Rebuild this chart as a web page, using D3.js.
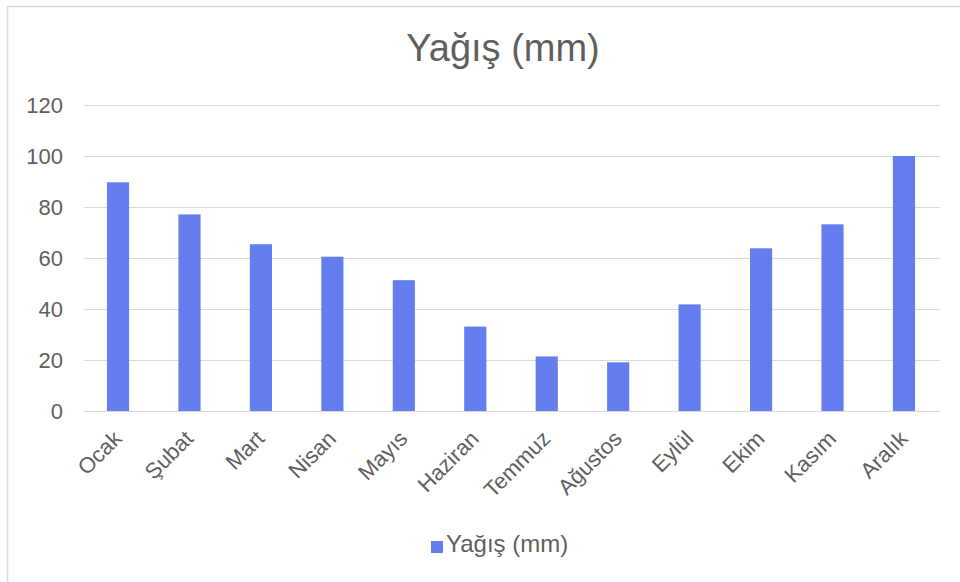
<!DOCTYPE html>
<html>
<head>
<meta charset="utf-8">
<script src="https://cdn.jsdelivr.net/npm/d3@7"></script>
<style>
  body { margin: 0; background: #fff; }
  text { font-family: "Liberation Sans", Arial, sans-serif; fill: #5f5f5f; }
</style>
</head>
<body>
<div id="chart"></div>
<script>
const months = ['Ocak', 'Şubat', 'Mart', 'Nisan', 'Mayıs', 'Haziran', 'Temmuz', 'Ağustos', 'Eylül', 'Ekim', 'Kasım', 'Aralık'];
const rainfall = [89.7, 77.1, 65.4, 60.5, 51.3, 33.1, 21.4, 19.1, 41.8, 63.8, 73.2, 100];
const yTicks = [0, 20, 40, 60, 80, 100, 120];
const title = 'Yağış (mm)';

const dim = { width: 960, height: 582, left: 84, right: 940, top: 105, bottom: 411 };

const svg = d3.select('#chart')
    .append('svg')
        .attr('width', dim.width)
        .attr('height', dim.height);

// outer frame, right and bottom sides run off the picture
svg.append('rect')
    .attr('x', 7.5)
    .attr('y', 6.5)
    .attr('width', 1000)
    .attr('height', 1000)
    .attr('fill', 'none')
    .attr('stroke', '#d9d9d9')
    .attr('stroke-width', 1.5);

const x = d3.scaleBand()
    .domain(months)
    .range([82.3, 939.7])
    .paddingInner(0.69)
    .paddingOuter(0.345);

const y = d3.scaleLinear()
    .domain([0, 120])
    .range([dim.bottom, dim.top]);

// gridlines
svg.append('g')
    .selectAll('line')
    .data(yTicks)
    .enter()
    .append('line')
        .attr('x1', dim.left)
        .attr('x2', dim.right)
        .attr('y1', d => Math.round(y(d)) + 0.5)
        .attr('y2', d => Math.round(y(d)) + 0.5)
        .attr('stroke', '#d9d9d9')
        .attr('stroke-width', 1.2);

// y labels
svg.append('g')
    .selectAll('text')
    .data(yTicks)
    .enter()
    .append('text')
        .attr('x', 63)
        .attr('y', d => y(d))
        .attr('dy', '0.36em')
        .attr('text-anchor', 'end')
        .attr('font-size', '22px')
        .text(d => d);

// bars
svg.append('g')
    .selectAll('rect')
    .data(rainfall)
    .enter()
    .append('rect')
        .attr('x', (d, i) => x(months[i]))
        .attr('y', d => y(d))
        .attr('width', x.bandwidth())
        .attr('height', d => y(0) - y(d))
        .attr('fill', '#647ef0');

// x labels, rotated
svg.append('g')
    .selectAll('text')
    .data(months)
    .enter()
    .append('text')
        .attr('transform', d => `translate(${x(d) + x.bandwidth() / 2 + 5}, 440) rotate(-45)`)
        .attr('text-anchor', 'end')
        .attr('font-size', '22px')
        .text(d => d);

svg.append('text')
    .attr('x', 503)
    .attr('y', 61)
    .attr('text-anchor', 'middle')
    .attr('font-size', '38px')
    .text(title);

// legend
const legend = svg.append('g')
    .attr('transform', 'translate(431, 541)');

legend.append('rect')
    .attr('width', 12)
    .attr('height', 12)
    .attr('fill', '#647ef0');

legend.append('text')
    .attr('x', 15)
    .attr('y', 11)
    .attr('font-size', '24px')
    .text(title);
</script>
</body>
</html>
